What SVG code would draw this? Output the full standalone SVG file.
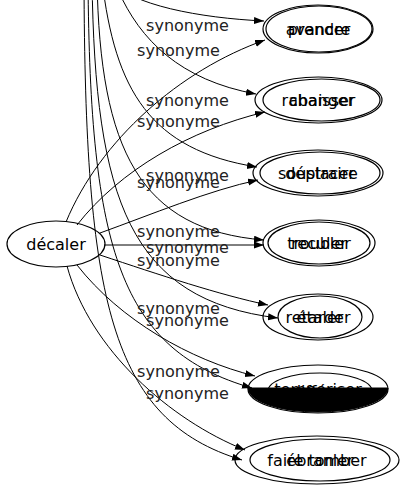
<svg xmlns="http://www.w3.org/2000/svg" width="407" height="491" viewBox="0 0 407 491">
<style>
text{font-family:"DejaVu Sans","Liberation Sans",sans-serif;font-size:16px;fill:#000;text-anchor:middle}
.lbl{fill:#222}
.e{fill:none;stroke:#000;stroke-width:1;marker-end:url(#ah)}
.n{fill:none;stroke:#000;stroke-width:1.2}
</style>
<defs>
<marker id="ah" markerUnits="userSpaceOnUse" markerWidth="11" markerHeight="8" refX="10" refY="3.5" orient="auto">
<path d="M0,0 L10,3.5 L0,7 Z" fill="#000"/>
</marker>
</defs>
<rect width="407" height="491" fill="#fff"/>
<g id="edges">
<path class="e" d="M110,-20 C130,5 200,18 264,21"/>
<path class="e" d="M118,-10 C140,40 180,80 256,94"/>
<path class="e" d="M102,-20 C115,90 150,150 257,167"/>
<path class="e" d="M97,-20 C100,150 140,230 264,240"/>
<path class="e" d="M92,-20 C95,200 130,300 278,318"/>
<path class="e" d="M88,-20 C90,250 120,350 252,388"/>
<path class="e" d="M84,-20 C85,300 110,420 242,460"/>
<path class="e" d="M66,222 C100,140 180,70 265,40"/>
<path class="e" d="M77,225 C120,170 190,130 265,112"/>
<path class="e" d="M100,233 C150,215 210,190 258,180"/>
<path class="e" d="M104,245 L264,245"/>
<path class="e" d="M100,255 C160,275 220,295 268,305"/>
<path class="e" d="M77,265 C120,320 190,360 255,376"/>
<path class="e" d="M67,266 C90,350 170,420 245,450"/>
<text class="lbl" x="187.5" y="31">synonyme</text>
<text class="lbl" x="178.5" y="56">synonyme</text>
<text class="lbl" x="187.5" y="106">synonyme</text>
<text class="lbl" x="178.5" y="127">synonyme</text>
<text class="lbl" x="187.5" y="181">synonyme</text>
<text class="lbl" x="178.5" y="188">synonyme</text>
<text class="lbl" x="178.5" y="237">synonyme</text>
<text class="lbl" x="187.5" y="253">synonyme</text>
<text class="lbl" x="178.5" y="266">synonyme</text>
<text class="lbl" x="178.5" y="314">synonyme</text>
<text class="lbl" x="187.5" y="326">synonyme</text>
<text class="lbl" x="178.5" y="377">synonyme</text>
<text class="lbl" x="187.5" y="399">synonyme</text>
</g>
<g id="decaler">
<ellipse class="n" cx="56" cy="244" rx="49" ry="23"/>
<text x="56" y="250">décaler</text>
</g>
<g id="avancer">
<ellipse class="n" cx="318" cy="29" rx="55" ry="24"/>
<text x="318" y="35">avancer</text>
</g>
<g id="prendre">
<ellipse class="n" cx="319" cy="29" rx="53" ry="23"/>
<text x="319" y="35">prendre</text>
</g>
<g id="rabaisser">
<ellipse class="n" cx="318.5" cy="100" rx="63.5" ry="23"/>
<text x="318.5" y="106">rabaisser</text>
</g>
<g id="changer">
<ellipse class="n" cx="321.5" cy="100" rx="58.5" ry="21"/>
<text x="321.5" y="106">changer</text>
</g>
<g id="soustraire">
<ellipse class="n" cx="318" cy="173" rx="65" ry="23"/>
<text x="318" y="179">soustraire</text>
</g>
<g id="deplacer">
<ellipse class="n" cx="320" cy="173" rx="60" ry="21"/>
<text x="320" y="179">déplacer</text>
</g>
<g id="troubler">
<ellipse class="n" cx="319" cy="243" rx="56" ry="23"/>
<text x="319" y="249">troubler</text>
</g>
<g id="reculer">
<ellipse class="n" cx="319" cy="243" rx="51" ry="21"/>
<text x="319" y="249">reculer</text>
</g>
<g id="retarder">
<ellipse class="n" cx="318" cy="317" rx="55" ry="23"/>
<text x="318" y="323">retarder</text>
</g>
<g id="etaler">
<ellipse class="n" cx="320" cy="317" rx="42" ry="21"/>
<text x="320" y="323">étaler</text>
</g>
<g id="temporiser">
<ellipse class="n" cx="318" cy="389" rx="70" ry="24"/>
<text x="318" y="395">temporiser</text>
</g>
<g id="differer">
<ellipse class="n" cx="320" cy="391" rx="52" ry="18"/>
<text x="320" y="397">différer</text>
<path d="M248,388 L388,388 A70 24 0 0 1 248,388 Z" fill="#000" stroke="#000"/>
</g>
<g id="faire-tomber">
<ellipse class="n" cx="317" cy="460" rx="82" ry="24"/>
<text x="317" y="466">faire tomber</text>
</g>
<g id="ebranler">
<ellipse class="n" cx="320" cy="460" rx="70" ry="21"/>
<text x="320" y="466">ébranler</text>
</g>
</svg>
